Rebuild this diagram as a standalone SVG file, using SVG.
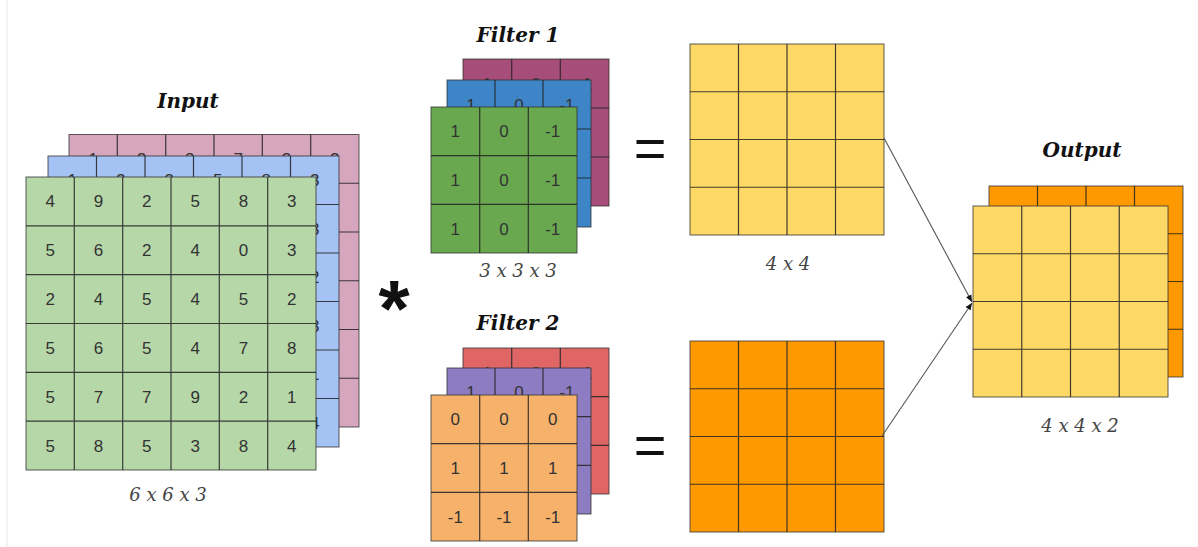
<svg xmlns="http://www.w3.org/2000/svg" width="1198" height="547" viewBox="0 0 1198 547">
<style>
.g{stroke:#222;stroke-width:1.2;stroke-opacity:0.85;fill:none}
.b{stroke:#333;stroke-width:1;stroke-opacity:0.8}
.n{font-family:"Liberation Sans",Arial,sans-serif;font-size:17px;fill:#333;text-anchor:middle}
.t{font-family:"DejaVu Serif",Georgia,serif;font-weight:bold;font-style:italic;font-size:20px;fill:#111;text-anchor:middle}
.l{font-family:"DejaVu Serif",Georgia,serif;font-style:italic;font-size:18px;fill:#444;text-anchor:middle}
.op{font-family:"Liberation Sans",Arial,sans-serif;fill:#111;text-anchor:middle}
.conn{stroke:#555;stroke-width:1.1;fill:none}
</style>
<defs>
<marker id="ah" markerWidth="8" markerHeight="8" refX="7" refY="4" orient="auto" markerUnits="userSpaceOnUse">
<path d="M0,1 L7,4 L0,7 Z" fill="#111"/>
</marker>
</defs>
<rect width="1198" height="547" fill="#fff"/>
<line x1="7" y1="0" x2="7" y2="547" stroke="#e6e6e6" stroke-width="1"/>

<g id="input">
<text class="t" x="188" y="108">Input</text>
<rect class="b" x="69" y="134.5" width="290" height="292.5" fill="#d5a6bd"/>
<path class="g" d="M117.3 134.5V427M165.7 134.5V427M214 134.5V427M262.3 134.5V427M310.7 134.5V427M69 183.25H359M69 232H359M69 280.75H359M69 329.5H359M69 378.25H359"/>
<g class="n">
<text x="93.2" y="165">1</text><text x="141.5" y="165">2</text><text x="189.8" y="165">3</text><text x="238.2" y="165">7</text><text x="286.5" y="165">3</text><text x="334.8" y="165">2</text>
</g>
<rect class="b" x="48" y="156" width="291" height="291" fill="#a4c2f4"/>
<path class="g" d="M96.5 156V447M145 156V447M193.5 156V447M242 156V447M290.5 156V447M48 204.5H339M48 253H339M48 301.5H339M48 350H339M48 398.5H339"/>
<g class="n">
<text x="72.3" y="186.3">1</text><text x="120.8" y="186.3">2</text><text x="169.3" y="186.3">3</text><text x="217.8" y="186.3">5</text><text x="266.3" y="186.3">8</text><text x="314.8" y="186.3">3</text>
<text x="314.8" y="234.8">3</text><text x="314.8" y="283.3">2</text><text x="314.8" y="331.8">3</text><text x="314.8" y="380.3">1</text><text x="314.8" y="428.8">4</text>
</g>
<rect class="b" x="26" y="177" width="290" height="293" fill="#b6d7a8"/>
<path class="g" d="M74.3 177V470M122.7 177V470M171 177V470M219.3 177V470M267.7 177V470M26 225.8H316M26 274.7H316M26 323.5H316M26 372.3H316M26 421.2H316"/>
<g class="n">
<text x="50.2" y="207.4">4</text><text x="98.5" y="207.4">9</text><text x="146.8" y="207.4">2</text><text x="195.2" y="207.4">5</text><text x="243.5" y="207.4">8</text><text x="291.8" y="207.4">3</text>
<text x="50.2" y="256.2">5</text><text x="98.5" y="256.2">6</text><text x="146.8" y="256.2">2</text><text x="195.2" y="256.2">4</text><text x="243.5" y="256.2">0</text><text x="291.8" y="256.2">3</text>
<text x="50.2" y="305.1">2</text><text x="98.5" y="305.1">4</text><text x="146.8" y="305.1">5</text><text x="195.2" y="305.1">4</text><text x="243.5" y="305.1">5</text><text x="291.8" y="305.1">2</text>
<text x="50.2" y="353.9">5</text><text x="98.5" y="353.9">6</text><text x="146.8" y="353.9">5</text><text x="195.2" y="353.9">4</text><text x="243.5" y="353.9">7</text><text x="291.8" y="353.9">8</text>
<text x="50.2" y="402.8">5</text><text x="98.5" y="402.8">7</text><text x="146.8" y="402.8">7</text><text x="195.2" y="402.8">9</text><text x="243.5" y="402.8">2</text><text x="291.8" y="402.8">1</text>
<text x="50.2" y="451.6">5</text><text x="98.5" y="451.6">8</text><text x="146.8" y="451.6">5</text><text x="195.2" y="451.6">3</text><text x="243.5" y="451.6">8</text><text x="291.8" y="451.6">4</text>
</g>
<text class="l" x="168" y="501">6 x 6 x 3</text>
</g>

<g id="conv-operator">
<text class="op" x="394" y="336" font-size="80" font-weight="bold">*</text>
</g>

<g id="filter1">
<text class="t" x="518" y="42">Filter 1</text>
<rect class="b" x="463" y="59" width="146" height="147" fill="#a64d79"/>
<path class="g" d="M511.7 59V206M560.3 59V206M463 108H609M463 157H609"/>
<g class="n"><text x="487.3" y="89.5">1</text><text x="536" y="89.5">0</text><text x="584.7" y="89.5">-1</text></g>
<rect class="b" x="447" y="80" width="144" height="147" fill="#3d85c6"/>
<path class="g" d="M495 80V227M543 80V227M447 129H591M447 178H591"/>
<g class="n"><text x="471" y="110.5">1</text><text x="519" y="110.5">0</text><text x="567" y="110.5">-1</text></g>
<rect class="b" x="431" y="107" width="146" height="146" fill="#6aa84f"/>
<path class="g" d="M479.7 107V253M528.3 107V253M431 155.7H577M431 204.3H577"/>
<g class="n">
<text x="455.3" y="137.3">1</text><text x="504" y="137.3">0</text><text x="552.7" y="137.3">-1</text>
<text x="455.3" y="186">1</text><text x="504" y="186">0</text><text x="552.7" y="186">-1</text>
<text x="455.3" y="234.7">1</text><text x="504" y="234.7">0</text><text x="552.7" y="234.7">-1</text>
</g>
<text class="l" x="518" y="277">3 x 3 x 3</text>
</g>

<g id="filter2">
<text class="t" x="518" y="330">Filter 2</text>
<rect class="b" x="463" y="348" width="146" height="146" fill="#e06666"/>
<path class="g" d="M511.7 348V494M560.3 348V494M463 396.7H609M463 445.3H609"/>
<g class="n"><text x="487.3" y="378.5">1</text><text x="536" y="378.5">0</text><text x="584.7" y="378.5">-1</text></g>
<rect class="b" x="447" y="368" width="144" height="146" fill="#8e7cc3"/>
<path class="g" d="M495 368V514M543 368V514M447 416.7H591M447 465.3H591"/>
<g class="n"><text x="471" y="398.3">1</text><text x="519" y="398.3">0</text><text x="567" y="398.3">-1</text></g>
<rect class="b" x="431" y="395" width="146" height="146" fill="#f6b26b"/>
<path class="g" d="M479.7 395V541M528.3 395V541M431 443.7H577M431 492.3H577"/>
<g class="n">
<text x="455.3" y="425.3">0</text><text x="504" y="425.3">0</text><text x="552.7" y="425.3">0</text>
<text x="455.3" y="474">1</text><text x="504" y="474">1</text><text x="552.7" y="474">1</text>
<text x="455.3" y="522.7">-1</text><text x="504" y="522.7">-1</text><text x="552.7" y="522.7">-1</text>
</g>
</g>

<g id="equals1"><text class="op" x="650" y="167" font-size="56">=</text></g>
<g id="equals2"><text class="op" x="650" y="464" font-size="56">=</text></g>

<g id="map1">
<rect class="b" x="690" y="44" width="194" height="191" fill="#ffd966"/>
<path class="g" d="M738.5 44V235M787 44V235M835.5 44V235M690 91.75H884M690 139.5H884M690 187.25H884"/>
<text class="l" x="788" y="270">4 x 4</text>
</g>

<g id="map2">
<rect class="b" x="690" y="341" width="194" height="191" fill="#ff9900"/>
<path class="g" d="M738.5 341V532M787 341V532M835.5 341V532M690 388.75H884M690 436.5H884M690 484.25H884"/>
</g>

<g id="output">
<text class="t" x="1082" y="157">Output</text>
<rect class="b" x="989" y="186" width="194" height="191" fill="#ff9900"/>
<path class="g" d="M1037.5 186V377M1086 186V377M1134.5 186V377M989 233.75H1183M989 281.5H1183M989 329.25H1183"/>
<rect class="b" x="973" y="206" width="195" height="191" fill="#ffd966"/>
<path class="g" d="M1021.75 206V397M1070.5 206V397M1119.25 206V397M973 253.75H1168M973 301.5H1168M973 349.25H1168"/>
<text class="l" x="1080" y="432">4 x 4 x 2</text>
</g>

<g id="connectors">
<line class="conn" x1="884" y1="138" x2="972" y2="302" marker-end="url(#ah)"/>
<line class="conn" x1="882" y1="436" x2="972" y2="303" marker-end="url(#ah)"/>
</g>
</svg>
